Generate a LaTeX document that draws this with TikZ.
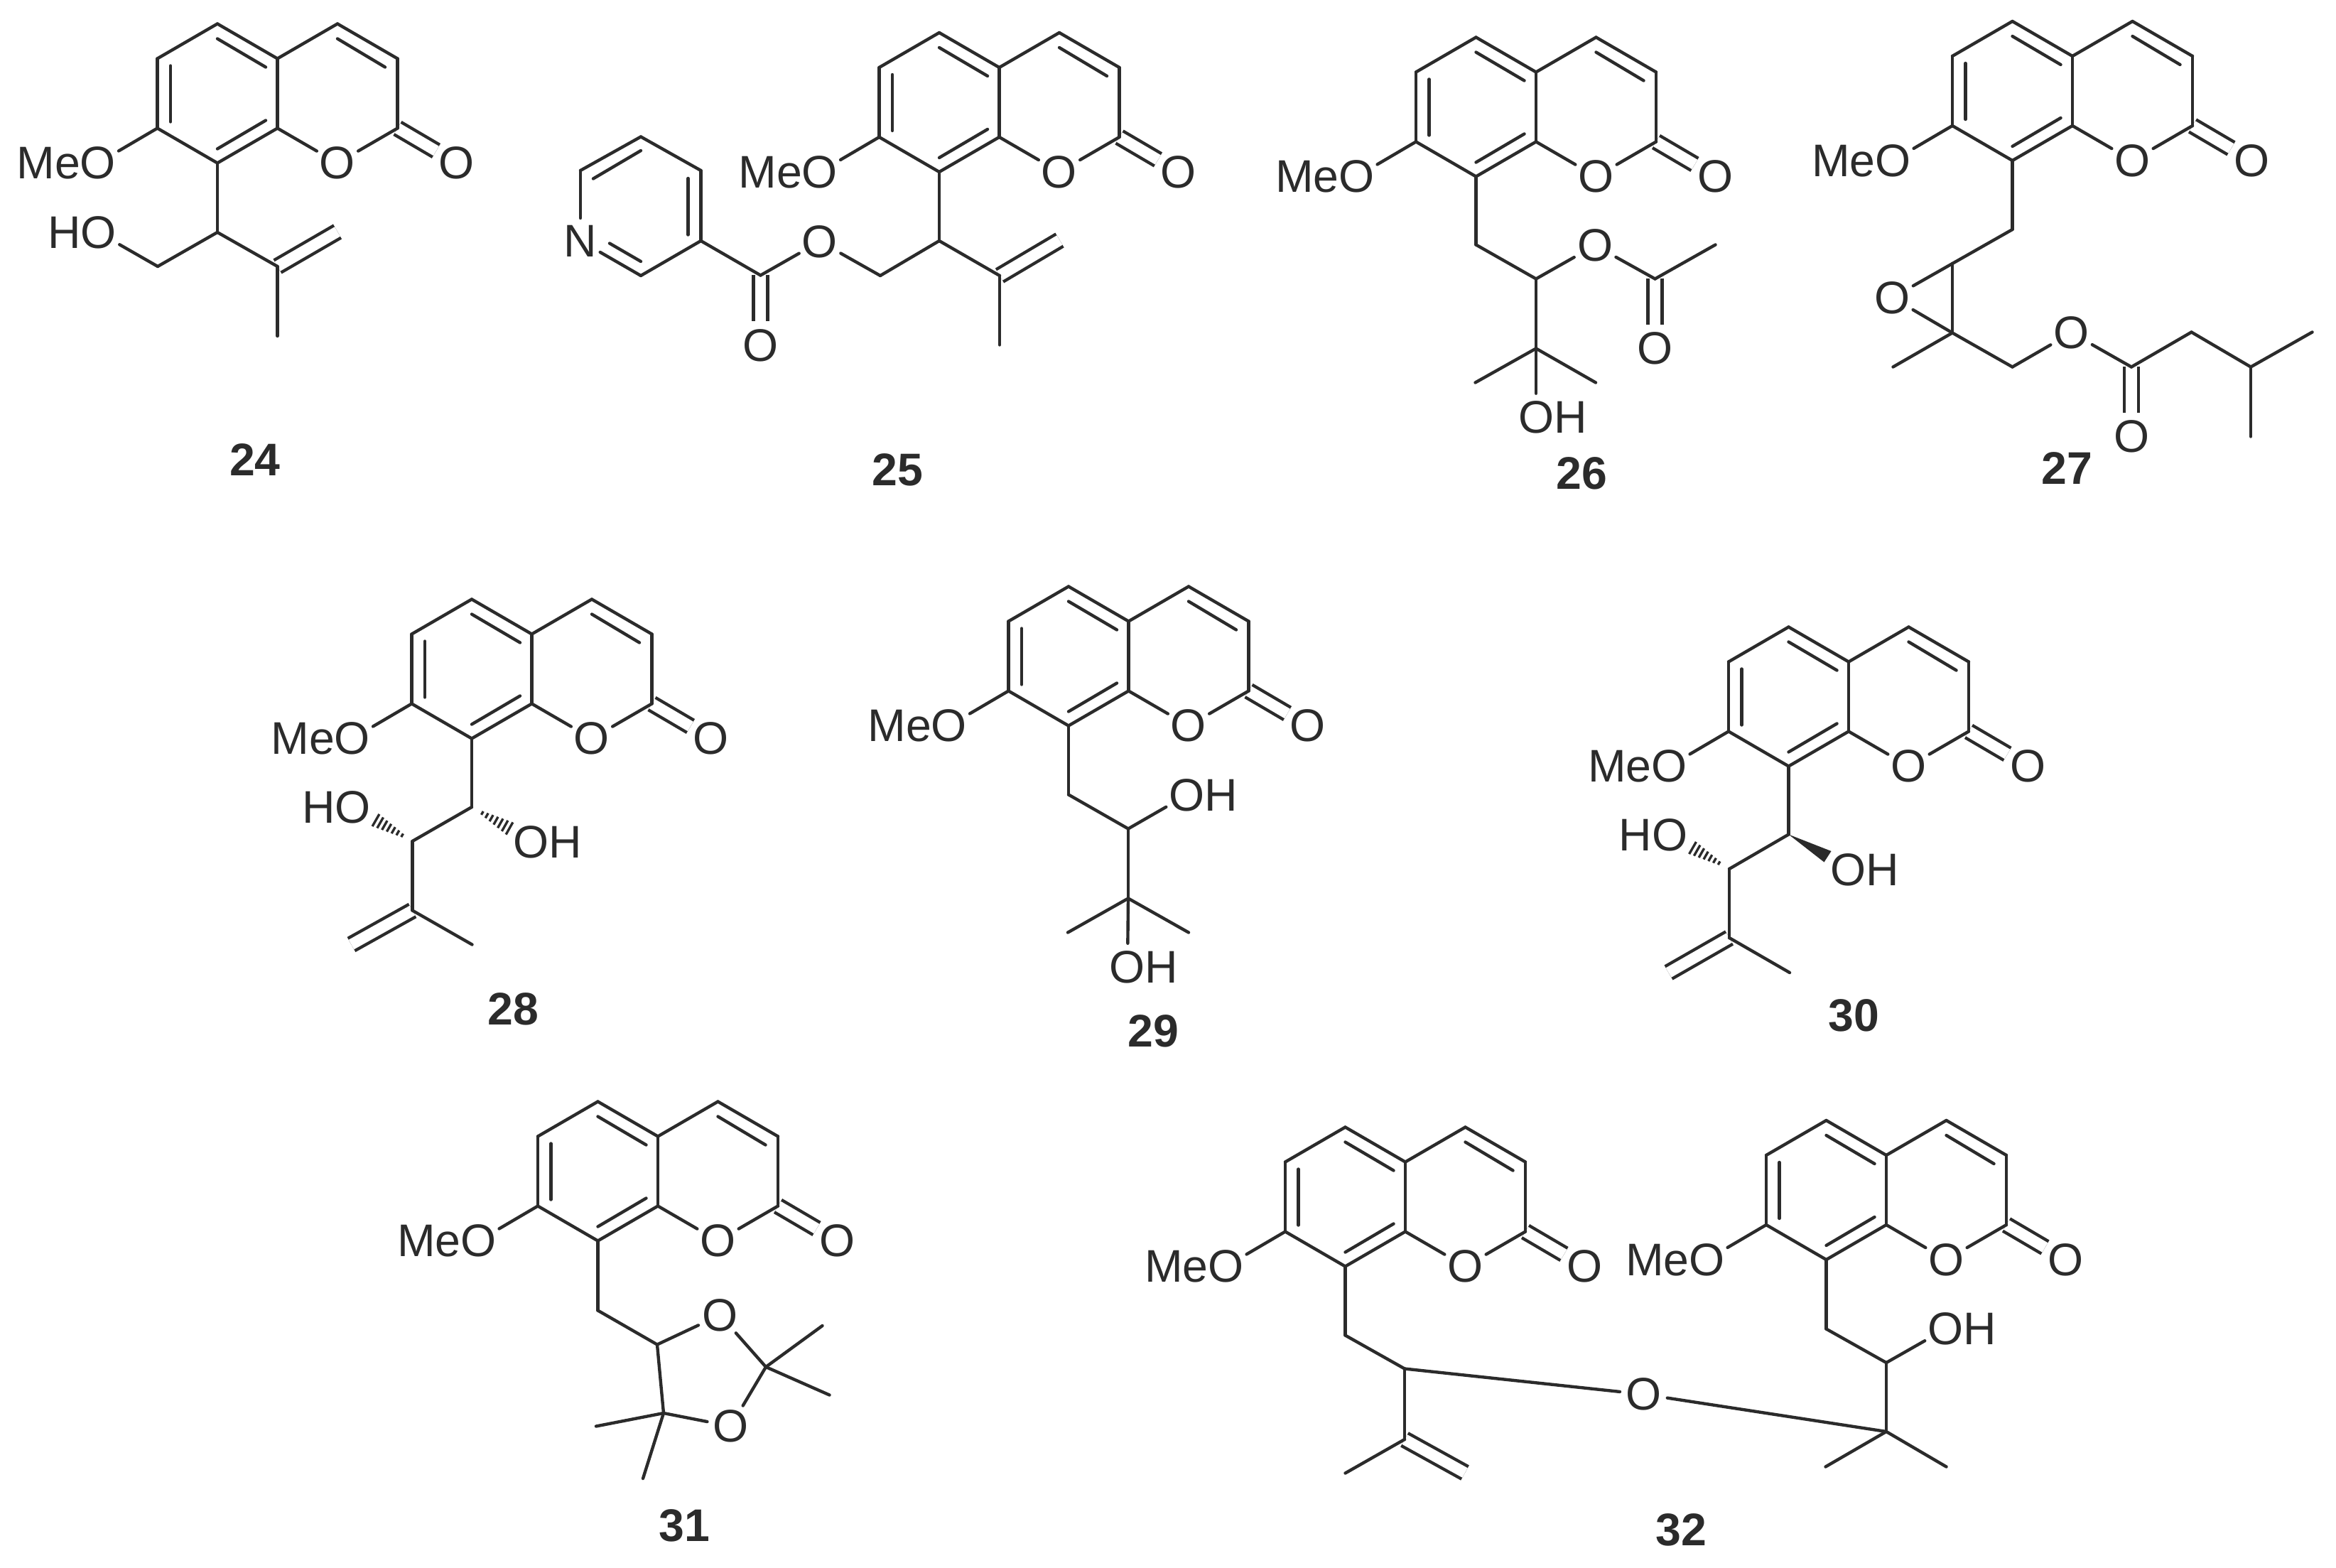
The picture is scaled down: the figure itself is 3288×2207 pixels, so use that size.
\documentclass[tikz,border=0pt]{standalone}
\usepackage{fontspec}
\setmainfont{Liberation Sans}
\usetikzlibrary{calc}
\definecolor{ink}{HTML}{2B2B2B}
\tikzset{
	atom/.style={circle,inner sep=0pt,outer sep=0pt,font=\fontsize{18.3}{20}\selectfont},
	tail/.style={inner sep=0pt,outer sep=0pt,font=\fontsize{18.3}{20}\selectfont},
	number/.style={inner sep=0pt,font=\fontsize{18.3}{20}\selectfont\bfseries},
	dbl/.style={double=white,double distance=4.4pt,line cap=butt},
	hashline/.style={line width=0.95pt,line cap=butt}
}
\newcommand{\coumarin}[3]{
	\begin{scope}[shift={(#2,#3)}]
	\coordinate (#1c8) at (0,0);
	\coordinate (#1c8a) at (84.5,-49);
	\coordinate (#1c4a) at (84.5,-147);
	\coordinate (#1c4) at (169,-196);
	\coordinate (#1c3) at (253.5,-147);
	\coordinate (#1c2) at (253.5,-49);
	\coordinate (#1c5) at (0,-196);
	\coordinate (#1c6) at (-84.5,-147);
	\coordinate (#1c7) at (-84.5,-49);
	\coordinate (#1ia) at (0,-175);
	\coordinate (#1ib) at (68,-135);
	\coordinate (#1ic) at (0,-20);
	\coordinate (#1id) at (68,-60);
	\coordinate (#1ie) at (-66,-137);
	\coordinate (#1if) at (-66,-58);
	\coordinate (#1ig) at (169,-175);
	\coordinate (#1ih) at (236,-135);
	\node[atom] (#1o1) at (169,0) {O};
	\node[atom] (#1oc) at (337,0) {O};
	\node[atom] (#1om) at (-168,0) {O};
	\node[tail,anchor=base east] (#1me) at ([xshift=-7.1pt]#1om.base) {Me};
	\end{scope}
	\path (#1c2) edge[dbl] (#1oc);
	\path
	(#1c8) edge (#1c8a)
	(#1c8a) edge (#1c4a)
	(#1c4a) edge (#1c4)
	(#1c4) edge (#1c3)
	(#1c3) edge (#1c2)
	(#1c2) edge (#1o1)
	(#1o1) edge (#1c8a)
	(#1c4a) edge (#1c5)
	(#1c5) edge (#1c6)
	(#1c6) edge (#1c7)
	(#1c7) edge (#1c8)
	(#1c7) edge (#1om)
	(#1ia) edge (#1ib)
	(#1ic) edge (#1id)
	(#1ie) edge (#1if)
	(#1ig) edge (#1ih);
}
\newcommand{\hashbond}[2]{
	\foreach \t in {0.28,0.4,0.52,0.64,0.76,0.88,1}{
		\draw[hashline] ($(#1)!\t!(#2)!\t*2.8pt!90:(#1)$) -- ($(#1)!\t!(#2)!\t*2.8pt!-90:(#1)$);
	}
}
\begin{document}
\begin{tikzpicture}[x=0.01cm,y=-0.01cm,color=ink,line width=1.25pt,line cap=round]
	\useasboundingbox (0,0) rectangle (3288,2207);
	
	\coumarin{a}{306}{229.5}
	\coordinate (a1) at (306,327);
	\coordinate (a2) at (222,375);
	\coordinate (a3) at (390.5,375);
	\coordinate (a4) at (390.5,473);
	\coordinate (a5) at (475,326);
	\node[atom] (a6) at (139,327.5) {O};
	\node[tail,anchor=base east] (a7) at ([xshift=-7.1pt]a6.base) {H};
	\node[number] (n24) at (359,647) {24};
	\path
	(a3) edge[dbl] (a5)
	(ac8) edge (a1)
	(a1) edge (a2)
	(a2) edge (a6)
	(a1) edge (a3)
	(a3) edge (a4);
	
	\coumarin{b}{1322}{242}
	\coordinate (b1) at (1322,339);
	\coordinate (b2) at (1239,388);
	\coordinate (b3) at (1407,388);
	\coordinate (b4) at (1407,485.5);
	\coordinate (b5) at (1491.5,338);
	\node[atom] (b6) at (1154,340) {O};
	\coordinate (b7) at (1070.5,387.5);
	\node[atom] (b8) at (1070.5,486) {O};
	\coordinate (b9) at (986.5,339);
	\coordinate (b10) at (986.5,240);
	\coordinate (b11) at (902,192.5);
	\coordinate (b12) at (817,240);
	\node[atom] (b13) at (817,339) {N};
	\coordinate (b14) at (902,388);
	\coordinate (b15) at (902,212);
	\coordinate (b16) at (835,251.5);
	\coordinate (b17) at (968.5,251);
	\coordinate (b18) at (968.5,330.5);
	\coordinate (b19) at (858,342.5);
	\coordinate (b20) at (902,368);
	\node[number] (n25) at (1263.5,661) {25};
	\path
	(b3) edge[dbl] (b5)
	(b7) edge[dbl] (b8)
	(bc8) edge (b1)
	(b1) edge (b2)
	(b2) edge (b6)
	(b6) edge (b7)
	(b1) edge (b3)
	(b3) edge (b4)
	(b7) edge (b9)
	(b9) edge (b10)
	(b10) edge (b11)
	(b11) edge (b12)
	(b12) edge (b13)
	(b13) edge (b14)
	(b14) edge (b9)
	(b15) edge (b16)
	(b17) edge (b18)
	(b19) edge (b20);
	
	\coumarin{c}{2077.5}{248.5}
	\coordinate (c1) at (2077.5,344.5);
	\coordinate (c2) at (2162,392.5);
	\node[atom] (c3) at (2245,345.5) {O};
	\coordinate (c4) at (2329.5,392.5);
	\coordinate (c5) at (2414.5,344.5);
	\node[atom] (c6) at (2329.5,490.5) {O};
	\coordinate (c7) at (2162,490.5);
	\coordinate (c8) at (2076.5,538.5);
	\coordinate (c9) at (2246,538.5);
	\node[atom] (c10) at (2162,587.5) {O};
	\node[tail,anchor=base west] (c11) at ([xshift=7.1pt]c10.base) {H};
	\node[number] (n26) at (2226,666) {26};
	\path
	(c4) edge[dbl] (c6)
	(cc8) edge (c1)
	(c1) edge (c2)
	(c2) edge (c3)
	(c3) edge (c4)
	(c4) edge (c5)
	(c2) edge (c7)
	(c7) edge (c8)
	(c7) edge (c9)
	(c7) edge (c10);
	
	\coumarin{d}{2832.5}{226}
	\coordinate (d1) at (2832.5,323);
	\coordinate (d2) at (2748,371);
	\coordinate (d3) at (2748,468.5);
	\node[atom] (d4) at (2663.5,419) {O};
	\coordinate (d5) at (2664.5,516.5);
	\coordinate (d6) at (2832.5,516.5);
	\node[atom] (d7) at (2915.5,468.5) {O};
	\coordinate (d8) at (3000,516.5);
	\node[atom] (d9) at (3000,614.5) {O};
	\coordinate (d10) at (3084.5,467.5);
	\coordinate (d11) at (3168,516.5);
	\coordinate (d12) at (3254.5,467.5);
	\coordinate (d13) at (3168,614.5);
	\node[number] (n27) at (2909.5,659) {27};
	\path
	(d8) edge[dbl] (d9)
	(dc8) edge (d1)
	(d1) edge (d2)
	(d2) edge (d3)
	(d2) edge (d4)
	(d3) edge (d4)
	(d3) edge (d5)
	(d3) edge (d6)
	(d6) edge (d7)
	(d7) edge (d8)
	(d8) edge (d10)
	(d10) edge (d11)
	(d11) edge (d12)
	(d11) edge (d13);
	
	\coumarin{e}{664}{1039.5}
	\coordinate (e1) at (664,1136);
	\coordinate (e2) at (580.5,1184);
	\coordinate (e3) at (580.5,1281.5);
	\coordinate (e4) at (664.5,1329.5);
	\coordinate (e5) at (494.5,1329.5);
	\node[atom] (e6) at (496.5,1136.5) {O};
	\node[tail,anchor=base east] (e7) at ([xshift=-7.1pt]e6.base) {H};
	\node[atom] (e8) at (748,1185) {O};
	\node[tail,anchor=base west] (e9) at ([xshift=7.1pt]e8.base) {H};
	\coordinate (e10) at (529,1154.5);
	\coordinate (e11) at (717,1166);
	\node[number] (n28) at (722,1420.5) {28};
	\path
	(e3) edge[dbl] (e5)
	(ec8) edge (e1)
	(e1) edge (e2)
	(e2) edge (e3)
	(e3) edge (e4);
	\hashbond{e2}{e10}
	\hashbond{e1}{e11}
	
	\coumarin{f}{1504}{1021.5}
	\coordinate (f1) at (1504,1118.5);
	\coordinate (f2) at (1588,1166.5);
	\node[atom] (f3) at (1670.5,1119) {O};
	\node[tail,anchor=base west] (f4) at ([xshift=7.1pt]f3.base) {H};
	\coordinate (f5) at (1588,1264.5);
	\coordinate (f6) at (1503,1312.5);
	\coordinate (f7) at (1673,1312.5);
	\node[atom] (f8) at (1587,1361.5) {O};
	\node[tail,anchor=base west] (f9) at ([xshift=7.1pt]f8.base) {H};
	\node[number] (n29) at (1623.5,1451.5) {29};
	\path
	(fc8) edge (f1)
	(f1) edge (f2)
	(f2) edge (f3)
	(f2) edge (f5)
	(f5) edge (f6)
	(f5) edge (f7)
	(f5) edge (f8);
	
	\coumarin{g}{2517.5}{1078.5}
	\coordinate (g1) at (2517.5,1174.5);
	\coordinate (g2) at (2434,1223);
	\coordinate (g3) at (2434,1320);
	\coordinate (g4) at (2519,1369);
	\coordinate (g5) at (2348.5,1369);
	\node[atom] (g6) at (2350,1175.5) {O};
	\node[tail,anchor=base east] (g7) at ([xshift=-7.1pt]g6.base) {H};
	\node[atom] (g8) at (2601.5,1224) {O};
	\node[tail,anchor=base west] (g9) at ([xshift=7.1pt]g8.base) {H};
	\coordinate (g10) at (2382.5,1193.5);
	\coordinate (g11) at (2577.5,1198);
	\coordinate (g12) at (2567.5,1213.5);
	\node[number] (n30) at (2609.5,1429) {30};
	\path
	(g3) edge[dbl] (g5)
	(gc8) edge (g1)
	(g1) edge (g2)
	(g2) edge (g3)
	(g3) edge (g4);
	\hashbond{g2}{g10}
	\fill (g1) -- (g11) -- (g12) -- cycle;
	
	\coumarin{h}{841.5}{1746.5}
	\coordinate (h1) at (841.5,1844.5);
	\coordinate (h2) at (925,1892.5);
	\node[atom] (h3) at (1013.5,1851) {O};
	\coordinate (h4) at (1078,1924);
	\coordinate (h5) at (1157.5,1866);
	\coordinate (h6) at (1167.5,1963.5);
	\node[atom] (h7) at (1028.5,2007.5) {O};
	\coordinate (h8) at (934,1989);
	\coordinate (h9) at (839,2007.5);
	\coordinate (h10) at (905,2081);
	\node[number] (n31) at (963,2147.5) {31};
	\path
	(hc8) edge (h1)
	(h1) edge (h2)
	(h2) edge (h3)
	(h3) edge (h4)
	(h4) edge (h5)
	(h4) edge (h6)
	(h4) edge (h7)
	(h7) edge (h8)
	(h8) edge (h2)
	(h8) edge (h9)
	(h8) edge (h10);
	
	\coumarin{i}{1893.5}{1782.5}
	\coumarin{j}{2570.5}{1773}
	\coordinate (i1) at (1893.5,1879.5);
	\coordinate (i2) at (1977,1926.5);
	\coordinate (i3) at (1977,2026);
	\coordinate (i4) at (1893.5,2073.5);
	\coordinate (i5) at (2062,2073);
	\node[atom] (i6) at (2313.5,1962.5) {O};
	\coordinate (j1) at (2570.5,1870.5);
	\coordinate (j2) at (2655,1918);
	\node[atom] (j3) at (2738.5,1870.5) {O};
	\node[tail,anchor=base west] (j4) at ([xshift=7.1pt]j3.base) {H};
	\coordinate (j5) at (2655,2015);
	\coordinate (j6) at (2569.5,2064.5);
	\coordinate (j7) at (2739.5,2064.5);
	\node[number] (n32) at (2366,2153) {32};
	\path
	(i3) edge[dbl] (i5)
	(ic8) edge (i1)
	(i1) edge (i2)
	(i2) edge (i3)
	(i3) edge (i4)
	(i2) edge (i6)
	(i6) edge (j5)
	(jc8) edge (j1)
	(j1) edge (j2)
	(j2) edge (j3)
	(j2) edge (j5)
	(j5) edge (j6)
	(j5) edge (j7);
\end{tikzpicture}
\end{document}
